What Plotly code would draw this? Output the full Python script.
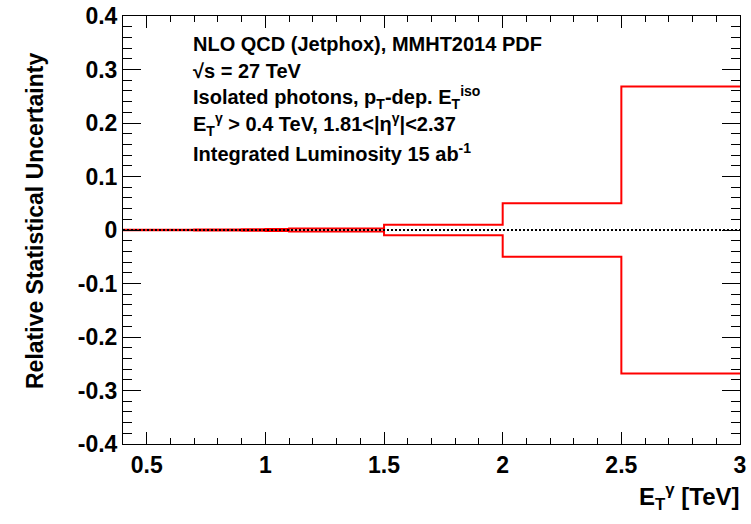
import plotly.graph_objects as go

# ---- data ----
bin_edges = [0.4, 0.5, 0.6, 0.7, 0.8, 0.9, 1.0, 1.1, 1.5, 2.0, 2.5, 3.0]
rel_stat_unc = [0.0004, 0.0005, 0.0006, 0.0008, 0.001, 0.0013, 0.0017, 0.003, 0.010, 0.050, 0.268]

x_tickvals = [0.5, 1.0, 1.5, 2.0, 2.5, 3.0]
x_ticktext = ["0.5", "1", "1.5", "2", "2.5", "3"]
y_tickvals = [0.4, 0.3, 0.2, 0.1, 0.0, -0.1, -0.2, -0.3, -0.4]
y_ticktext = ["0.4", "0.3", "0.2", "0.1", "0", "-0.1", "-0.2", "-0.3", "-0.4"]

info_lines = [
    "NLO QCD (Jetphox), MMHT2014 PDF",
    "\u221As = 27 TeV",
    "Isolated photons, p<sub>T</sub>-dep. E<sub>T</sub><sup>iso</sup>",
    "E<sub>T</sub><sup>\u03b3</sup> > 0.4 TeV, 1.81<|\u03b7<sup>\u03b3</sup>|<2.37",
    "Integrated Luminosity 15 ab<sup>-1</sup>",
]

# ---- figure ----
FONT = "Liberation Sans, Arial, Helvetica, sans-serif"
upper = rel_stat_unc + [rel_stat_unc[-1]]
lower = [-v for v in rel_stat_unc] + [-rel_stat_unc[-1]]

fig = go.Figure()
fig.add_trace(go.Scatter(x=bin_edges, y=upper, mode="lines", line_shape="hv",
                         line=dict(color="#ff0000", width=2), showlegend=False))
fig.add_trace(go.Scatter(x=bin_edges, y=lower, mode="lines", line_shape="hv",
                         line=dict(color="#ff0000", width=2), showlegend=False))
fig.add_trace(go.Scatter(x=[bin_edges[0], bin_edges[-1]], y=[0, 0], mode="lines",
                         line=dict(color="black", width=2, dash="2px,2px"), showlegend=False))

W, H = 751, 524
L, R, T, B = 123, 11, 16, 80
pw, ph = W - L - R, H - T - B

fig.update_layout(
    width=W, height=H,
    margin=dict(l=L, r=R, t=T, b=B, pad=0),
    paper_bgcolor="white", plot_bgcolor="white",
    font=dict(family=FONT, size=24, color="black", weight="bold"),
    xaxis=dict(range=[0.4, 3.0], showgrid=False, zeroline=False, automargin=False,
               showline=True, linecolor="black", linewidth=1, mirror="allticks",
               ticks="inside", ticklen=12, tickcolor="black", tickwidth=1,
               tickvals=x_tickvals, ticktext=x_ticktext,
               tickfont=dict(family=FONT, size=23, weight="bold"),
               minor=dict(ticks="inside", ticklen=6, dtick=0.1, tick0=0.4,
                          tickcolor="black", tickwidth=1, showgrid=False)),
    yaxis=dict(range=[-0.4, 0.4], showgrid=False, zeroline=False, automargin=False,
               showline=True, linecolor="black", linewidth=1, mirror="allticks",
               ticks="inside", ticklen=18, tickcolor="black", tickwidth=1,
               tickvals=y_tickvals, ticktext=y_ticktext,
               tickfont=dict(family=FONT, size=23, weight="bold"),
               minor=dict(ticks="inside", ticklen=9, dtick=0.02, tick0=0.0,
                          tickcolor="black", tickwidth=1, showgrid=False)),
)

def px2paper_x(px):
    return (px - L) / pw

def px2paper_y(py):
    return (H - B - py) / ph

# info text block
line_y = [44, 71, 98, 125, 152]
for txt, py in zip(info_lines, line_y):
    fig.add_annotation(text=txt, xref="paper", yref="paper",
                       x=px2paper_x(191), y=px2paper_y(py),
                       xanchor="left", yanchor="middle", showarrow=False,
                       font=dict(family=FONT, size=20, weight="bold", color="black"))

# axis titles
fig.add_annotation(text="Relative Statistical Uncertainty", xref="paper", yref="paper",
                   x=px2paper_x(35), y=px2paper_y(221), xanchor="center", yanchor="middle",
                   textangle=-90, showarrow=False,
                   font=dict(family=FONT, size=23, weight="bold", color="black"))
fig.add_annotation(text="E<sub>T</sub><sup>\u03b3</sup> [TeV]", xref="paper", yref="paper",
                   x=px2paper_x(742), y=px2paper_y(497), xanchor="right", yanchor="middle",
                   showarrow=False,
                   font=dict(family=FONT, size=24, weight="bold", color="black"))

fig.write_html("out.html")
